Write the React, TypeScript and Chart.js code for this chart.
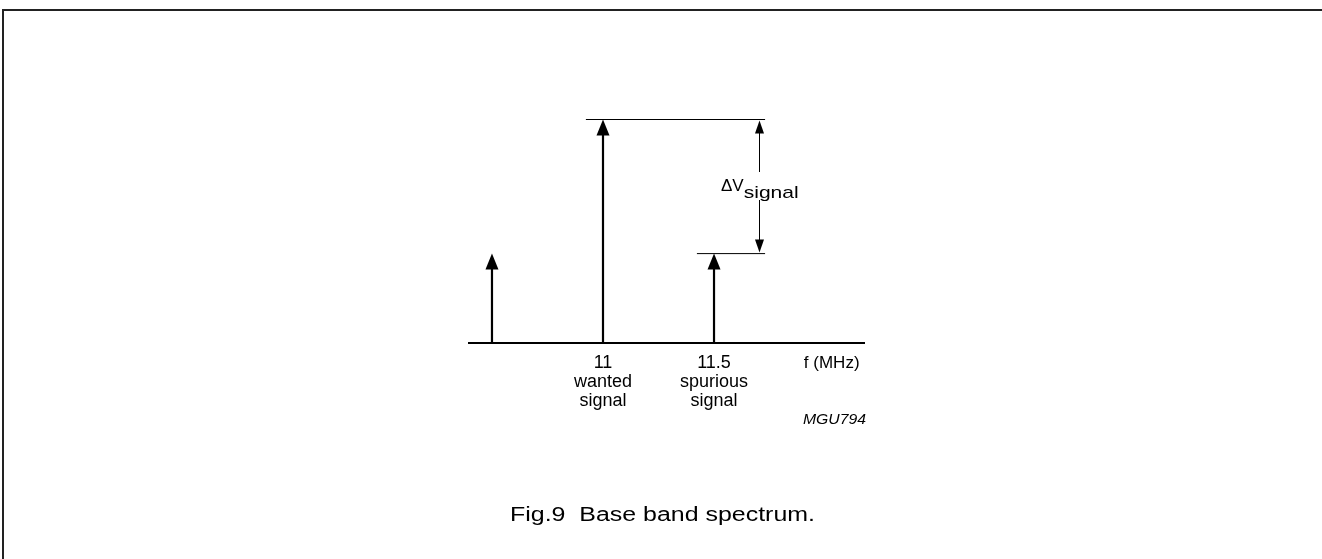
import React, { useEffect, useRef } from "react";
import { Chart, registerables } from "chart.js";

Chart.register(...registerables);

// Axis range (MHz)
const xRange = [10.392, 12.18];
// Spectral lines: frequency (MHz) and relative amplitude
const lineFreqs = [10.5, 11, 11.5];
const lineAmps = [0.4, 1.0, 0.4];
// Tick labels under the axis
const tickValues = [11, 11.5];
const tickLabels = [["11", "wanted", "signal"], ["11.5", "spurious", "signal"]];
const axisUnitLabel = "f (MHz)";
const axisUnitPos = 12.03;
// Reference levels for ΔV measurement
const refTop = { from: 10.923, to: 11.73, y: 1.0 };
const refLow = { from: 11.423, to: 11.73, y: 0.4 };
const deltaX = 11.703;
const figCode = "MGU794";
const caption = "Fig.9  Base band spectrum.";

const FONT = "'Liberation Sans', Arial, Helvetica, sans-serif";

function stretchText(ctx: any, text: string, x: number, y: number, targetW: number, align: string) {
  const w = ctx.measureText(text).width;
  const s = targetW / w;
  ctx.save();
  ctx.textAlign = "left";
  let left = x;
  if (align === "center") left = x - targetW / 2;
  else if (align === "right") left = x - targetW;
  ctx.translate(left, y);
  ctx.scale(s, 1);
  ctx.fillText(text, 0, 0);
  ctx.restore();
}

const drawPlugin = {
  id: "spectrumDecor",
  beforeDraw(chart: any) {
    const ctx = chart.ctx;
    ctx.save();
    ctx.strokeStyle = "#222";
    ctx.lineWidth = 2;
    ctx.beginPath();
    ctx.moveTo(3, 1000);
    ctx.lineTo(3, 10);
    ctx.lineTo(2000, 10);
    ctx.stroke();
    ctx.restore();
  },
  afterDatasetsDraw(chart: any) {
    const ctx = chart.ctx;
    const xs = chart.scales.x;
    const ys = chart.scales.y;
    ctx.save();
    ctx.fillStyle = "#000";
    ctx.strokeStyle = "#000";
    // arrowheads on spectral lines
    lineFreqs.forEach((f, i) => {
      const px = xs.getPixelForValue(f);
      const py = ys.getPixelForValue(lineAmps[i]);
      ctx.beginPath();
      ctx.moveTo(px, py);
      ctx.lineTo(px - 6.5, py + 16);
      ctx.lineTo(px + 6.5, py + 16);
      ctx.closePath();
      ctx.fill();
    });
    // double arrow ΔV
    const dx = Math.round(xs.getPixelForValue(deltaX)) + 0.5;
    const yTop = ys.getPixelForValue(refTop.y);
    const yLow = ys.getPixelForValue(refLow.y);
    ctx.lineWidth = 1;
    ctx.beginPath();
    ctx.moveTo(dx, yTop + 10);
    ctx.lineTo(dx, 172);
    ctx.moveTo(dx, 200);
    ctx.lineTo(dx, yLow - 10);
    ctx.stroke();
    ctx.beginPath();
    ctx.moveTo(dx, yTop + 1);
    ctx.lineTo(dx - 4.5, yTop + 14);
    ctx.lineTo(dx + 4.5, yTop + 14);
    ctx.closePath();
    ctx.fill();
    ctx.beginPath();
    ctx.moveTo(dx, yLow - 1);
    ctx.lineTo(dx - 4.5, yLow - 14);
    ctx.lineTo(dx + 4.5, yLow - 14);
    ctx.closePath();
    ctx.fill();
    // ΔV label
    ctx.textBaseline = "alphabetic";
    ctx.textAlign = "left";
    ctx.font = `17px ${FONT}`;
    const base = "\u0394V";
    const w = ctx.measureText(base).width;
    ctx.fillText(base, 721, 191);
    stretchText(ctx, "signal", 721 + w, 198, 55, "left");

    // tick labels
    ctx.textAlign = "center";
    ctx.textBaseline = "middle";
    ctx.font = `18px ${FONT}`;
    tickValues.forEach((v, i) => {
      const px = xs.getPixelForValue(v);
      tickLabels[i].forEach((t, j) => {
        ctx.fillText(t, px, 363 + j * 19);
      });
    });
    ctx.font = `17px ${FONT}`;
    ctx.fillText(axisUnitLabel, xs.getPixelForValue(axisUnitPos), 363);
    ctx.font = `italic 14px ${FONT}`;
    stretchText(ctx, figCode, 866, 420, 63, "right");
    ctx.textBaseline = "alphabetic";
    ctx.font = `20px ${FONT}`;
    stretchText(ctx, caption, 510, 521, 305, "left");
    ctx.restore();
  },
};

export default function App() {
  const ref = useRef<HTMLCanvasElement | null>(null);
  useEffect(() => {
    if (!ref.current) return;
    const lineDs = (pts: { x: number; y: number }[], w: number) => ({
      data: pts,
      showLine: true,
      borderColor: "#000",
      backgroundColor: "#000",
      borderWidth: w,
      pointRadius: 0,
      clip: false as any,
    });
    const datasets: any[] = [
      lineDs([{ x: xRange[0], y: 0 }, { x: xRange[1], y: 0 }], 2),
      ...lineFreqs.map((f, i) => lineDs([{ x: f, y: 0 }, { x: f, y: lineAmps[i] - 0.03 }], 2.2)),
      lineDs([{ x: refTop.from, y: refTop.y }, { x: refTop.to, y: refTop.y }], 1),
      lineDs([{ x: refLow.from, y: refLow.y }, { x: refLow.to, y: refLow.y }], 1),
    ];
    const chart = new Chart(ref.current, {
      type: "scatter",
      data: { datasets },
      options: {
        animation: false,
        responsive: false,
        devicePixelRatio: 1,
        layout: { padding: { left: 468, right: 1322 - 865, top: 119.5, bottom: 559 - 343 } },
        plugins: { legend: { display: false }, tooltip: { enabled: false } },
        scales: {
          x: { type: "linear", min: xRange[0], max: xRange[1], display: false },
          y: { type: "linear", min: 0, max: 1, display: false },
        },
      },
      plugins: [drawPlugin],
    });
    return () => chart.destroy();
  }, []);
  return (
    <div style={{ position: "absolute", left: 0, top: 0, width: 1322, height: 559, background: "#fff" }}>
      <canvas ref={ref} width={1322} height={559} style={{ display: "block" }} />
    </div>
  );
}
